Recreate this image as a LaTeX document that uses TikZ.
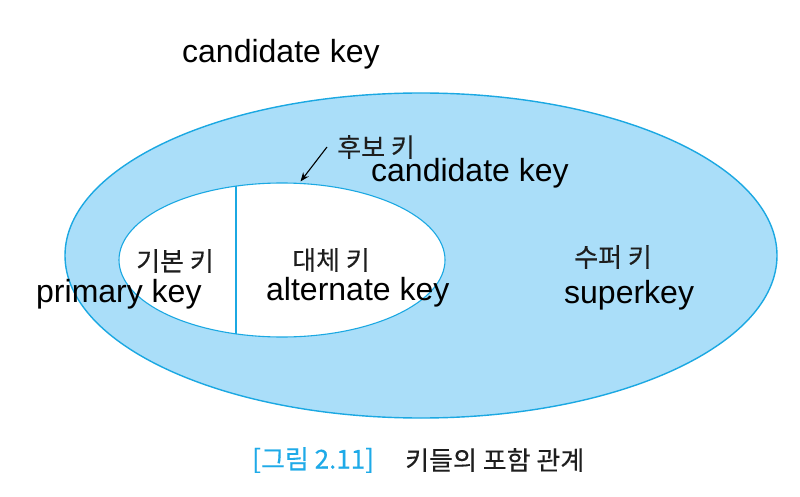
\documentclass[tikz,border=0pt]{standalone}
\usepackage{fontspec}
\setmainfont{Liberation Sans}
\newfontfamily\krfont[FakeBold=0.25]{Noto Sans CJK KR}
\usetikzlibrary{shapes.geometric,arrows.meta}
\definecolor{setfill}{RGB}{170,222,249}
\definecolor{setline}{RGB}{27,168,226}
\definecolor{capblue}{RGB}{30,170,232}
\definecolor{krtext}{RGB}{30,30,30}
\tikzset{
  entext/.style={inner sep=0pt, anchor=base west, font=\fontsize{32}{32}\selectfont, text=black},
  krlabel/.style={inner sep=0pt, anchor=center, font=\krfont\fontsize{26}{26}\selectfont, text=krtext},
  setshape/.style={ellipse, draw=setline, inner sep=0pt},
  pointer/.style={-{Stealth[length=9pt,width=7pt]}, line width=1.1pt, black},
}
\begin{document}
\begin{tikzpicture}[x=1pt,y=-1pt]
\useasboundingbox (0,0) rectangle (800,497);
\fill[white] (0,0) rectangle (800,497);
% sets
\node[setshape, fill=setfill, line width=1.4pt, minimum width=712pt, minimum height=325pt] (outer) at (421,255.5) {};
\node[setshape, fill=white, line width=1.1pt, minimum width=326pt, minimum height=154pt] (inner) at (282,260) {};
\begin{scope}
  \clip (282,260) ellipse [x radius=163, y radius=77];
  \draw[setline, line width=1.1pt] (236,150) -- (236,370);
\end{scope}
% labels
\node[entext] (cktop) at (182,63) {candidate key};
\node[krlabel] (hubo) at (376,147) {후보 키};
\node[entext] (ckin) at (371,182) {candidate key};
\node[krlabel] (gibon) at (175,261) {기본 키};
\node[entext] (pk) at (36,302) {primary key};
\node[krlabel] (daeche) at (331,260) {대체 키};
\node[entext] (ak) at (266,300) {alternate key};
\node[krlabel] (super) at (613,257) {수퍼 키};
\node[entext] (sk) at (564,303) {superkey};
% pointer
\coordinate (pstart) at (327,147);
\coordinate (ptip) at (300.5,181.5);
\draw[pointer] (pstart) -- (ptip);
% caption
\node[inner sep=0pt, anchor=west, font=\krfont\fontsize{26}{26}\selectfont, text=capblue] (capnum) at (252,460) {[그림 2.11]};
\node[inner sep=0pt, anchor=west, font=\krfont\fontsize{26}{26}\selectfont, text=krtext] (captext) at (405,460) {키들의 포함 관계};
\end{tikzpicture}
\end{document}
